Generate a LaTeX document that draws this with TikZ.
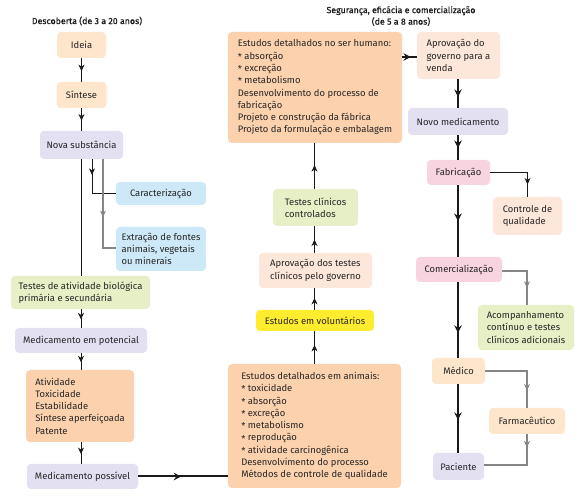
\documentclass[tikz,border=0pt]{standalone}
\usepackage{fontspec}
\setmainfont{Fira Sans}
\usetikzlibrary{arrows.meta,decorations.markings}
\definecolor{corange}{HTML}{FDE6CB}
\definecolor{clav}{HTML}{E3E0F2}
\definecolor{cblue}{HTML}{CDE8F7}
\definecolor{cgreen}{HTML}{E6EFC6}
\definecolor{cpeach}{HTML}{FCD2AE}
\definecolor{clpeach}{HTML}{FDE6DA}
\definecolor{cpink}{HTML}{F8D3E0}
\definecolor{cyellow}{HTML}{FFEC2E}
\definecolor{cgray}{HTML}{858585}
\definecolor{cline}{HTML}{1A1A1A}
\newcommand{\bul}{\raisebox{-1.2pt}{*}}
\begin{document}
\begin{tikzpicture}[x=1pt,y=-1pt,
  box/.style={rounded corners=4pt,inner sep=0pt,font=\fontsize{9.4}{12.3}\selectfont,text=black!85},
  lbox/.style={box,align=left},
  midarr/.style={decoration={markings,mark=at position #1 with {\arrow{Stealth[length=6.5pt,width=6pt,inset=2pt]}}},postaction={decorate}},
  midarr/.default=0.5,
  bigarr/.style={decoration={markings,mark=at position #1 with {\arrow{Stealth[length=7.5pt,width=7.5pt,inset=2.5pt]}}},postaction={decorate}},
  bigarr/.default=0.5,
  conn/.style={draw=cline,line width=1pt},
  thick conn/.style={draw=cline,line width=2.2pt},
  gconn/.style={draw=cgray,line width=1.3pt},
  ttl/.style={font=\fontsize{8.8}{11.5}\selectfont\addfontfeature{FakeBold=0.5},text=black!90,align=center}
]
\useasboundingbox (0,0) rectangle (587,502);
% titles
\node[ttl] (t1) at (87,21) {Descoberta (de 3 a 20 anos)};
\node[ttl] (t2) at (401,16) {Segurança, eficácia e comercialização\\(de 5 a 8 anos)};
% left column
\node[box,fill=corange,minimum width=49,minimum height=26] (ideia) at (81.5,45) {Ideia};
\node[box,fill=corange,minimum width=50,minimum height=26] (sintese) at (81.5,95) {Síntese};
\node[box,fill=clav,minimum width=83,minimum height=28] (nova) at (81.5,145) {Nova substância};
\node[box,fill=cblue,minimum width=90,minimum height=23] (carac) at (161,193.5) {Caracterização};
\node[lbox,fill=cblue,minimum width=90,minimum height=44] (extr) at (161,249) {Extração de fontes\\animais, vegetais\\ou minerais};
\node[lbox,fill=cgreen,minimum width=139,minimum height=33] (testes) at (80.5,292.5) {Testes de atividade biológica\\primária e secundária};
\node[box,fill=clav,minimum width=132,minimum height=25] (medpot) at (81,340.5) {Medicamento em potencial};
\node[lbox,fill=cpeach,minimum width=108,minimum height=72] (ativ) at (80,406) {Atividade\\Toxicidade\\Estabilidade\\Síntese aperfeiçoada\\Patente};
\node[box,fill=clav,minimum width=111,minimum height=25] (medpos) at (82.5,476.5) {Medicamento possível};
% middle column
\node[lbox,fill=cpeach,minimum width=174,minimum height=111] (humanos) at (315,87.5) {Estudos detalhados no ser humano:\\\bul{} absorção\\\bul{} excreção\\\bul{} metabolismo\\Desenvolvimento do processo de\\fabricação\\Projeto e construção da fábrica\\Projeto da formulação e embalagem};
\node[lbox,fill=cgreen,minimum width=85,minimum height=37] (tclin) at (315.5,207.5) {Testes clínicos\\controlados};
\node[lbox,fill=clpeach,minimum width=113,minimum height=35] (aprovt) at (315.5,270.5) {Aprovação dos testes\\clínicos pelo governo};
\node[box,fill=cyellow,minimum width=118,minimum height=21] (volunt) at (315,320.5) {Estudos em voluntários};
\node[lbox,fill=cpeach,minimum width=173,minimum height=124] (animais) at (314.5,426) {Estudos detalhados em animais:\\\bul{} toxicidade\\\bul{} absorção\\\bul{} excreção\\\bul{} metabolismo\\\bul{} reprodução\\\bul{} atividade carcinogênica\\Desenvolvimento do processo\\Métodos de controle de qualidade};
% right column
\node[lbox,fill=clpeach,minimum width=83,minimum height=47] (aprovv) at (458.5,55.5) {Aprovação do\\governo para a\\venda};
\node[box,fill=clav,minimum width=100,minimum height=27] (novo) at (458,121.5) {Novo medicamento};
\node[box,fill=cpink,minimum width=63,minimum height=25] (fabr) at (458.5,172.5) {Fabricação};
\node[lbox,fill=clpeach,minimum width=69,minimum height=38] (ctrl) at (527.5,216) {Controle de\\qualidade};
\node[box,fill=cpink,minimum width=86,minimum height=25] (comerc) at (459,269.5) {Comercialização};
\node[lbox,fill=cgreen,minimum width=96,minimum height=45] (acomp) at (526,327.5) {Acompanhamento\\contínuo e testes\\clínicos adicionais};
\node[box,fill=corange,minimum width=53,minimum height=26] (medico) at (458.5,371) {Médico};
\node[box,fill=corange,minimum width=76,minimum height=26] (farm) at (527,421) {Farmacêutico};
\node[box,fill=clav,minimum width=51,minimum height=27] (pac) at (458.5,466.5) {Paciente};
% left connectors
\draw[conn,midarr=0.55] (ideia.south) -- (sintese.north);
\draw[conn,midarr=0.55] (sintese.south) -- (nova.north);
\draw[conn] ([xshift=-0.5]nova.south) -- ([xshift=-0.5]nova.south |- testes.north);
\draw[conn,midarr=0.27] ([xshift=10.5]nova.south) |- (carac.west);
\draw[gconn,midarr=0.57] ([xshift=21.5]nova.south) |- ([yshift=1]extr.west);
\draw[conn,midarr=0.55] (testes.south -| medpot.north) -- (medpot.north);
\draw[conn,midarr=0.55] (medpot.south) -- (medpot.south |- ativ.north);
\draw[conn,midarr=0.55] (medpot.south |- ativ.south) -- (medpot.south |- medpos.north);
\draw[conn,line width=2pt,bigarr=0.48] (medpos.east) -- (medpos.east -| animais.west);
% middle connectors
\draw[conn,midarr=0.58] (animais.north) -- (animais.north |- volunt.south);
\draw[conn,midarr=0.55] (animais.north |- volunt.north) -- (animais.north |- aprovt.south);
\draw[conn,midarr=0.5] (animais.north |- aprovt.north) -- (animais.north |- tclin.south);
\draw[conn,midarr=0.52] (animais.north |- tclin.north) -- (animais.north |- humanos.south);
% right connectors
\draw[conn,line width=1.8pt,bigarr=0.6] ([yshift=-1.5]aprovv.west -| humanos.east) -- ([yshift=-1.5]aprovv.west);
\draw[thick conn,bigarr=0.62] (aprovv.south -| novo.north) -- (novo.north);
\draw[thick conn,bigarr=0.52] (novo.south) -- (novo.south |- fabr.north);
\draw[thick conn,bigarr=0.5] (novo.south |- fabr.south) -- (novo.south |- comerc.north);
\draw[thick conn,bigarr=0.67] (novo.south |- comerc.south) -- (novo.south |- medico.north);
\draw[thick conn,bigarr=0.52] (novo.south |- medico.south) -- (novo.south |- pac.north);
\draw[conn,midarr=0.8] (fabr.east) -| (ctrl.north);
\draw[gconn,midarr=0.71] ([yshift=-1.5]comerc.east) -| ([xshift=1]acomp.north);
\draw[gconn,midarr=0.78] (medico.east) -| (farm.north);
\draw[gconn,midarr=0.18] (farm.south) |- ([yshift=1.5]pac.east);
\end{tikzpicture}
\end{document}
